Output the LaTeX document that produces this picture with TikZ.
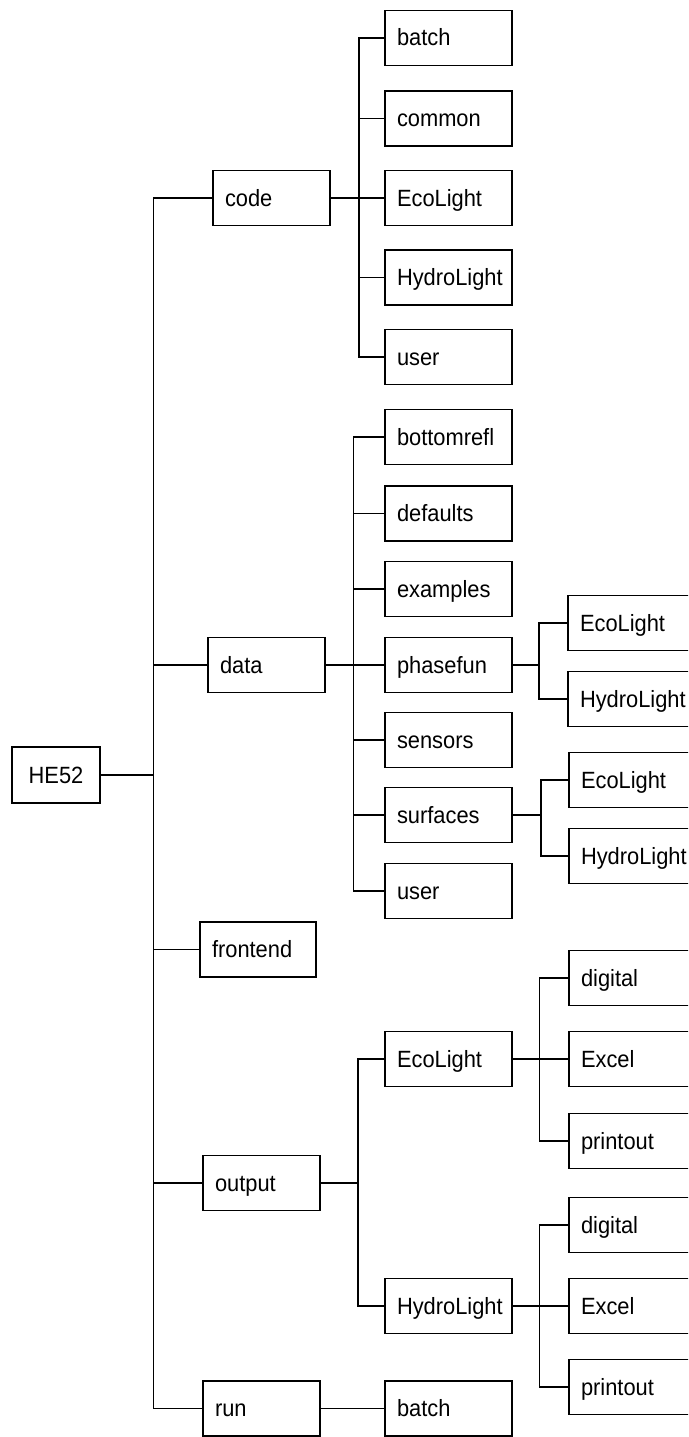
\documentclass[tikz,border=0pt]{standalone}
\usepackage{fontspec}
\newfontfamily\arialx[FakeStretch=0.93]{Liberation Sans}
\begin{document}
\begin{tikzpicture}[x=1pt,y=-1pt,
  bx/.style={draw, line width=1.1pt, inner xsep=12pt, inner ysep=0pt, minimum height=55pt,
    text height=16pt, text depth=0pt, align=left, font=\arialx\fontsize{23.5}{26}\selectfont},
  wa/.style={bx, text width=93pt},
  wb/.style={bx, text width=103pt},
  ln/.style={line width=1.1pt}]
\useasboundingbox (0,0) rectangle (688,1437);
\clip (0,0) rectangle (688,1437);
% root
\node[bx, text width=64pt, align=center, minimum height=56pt] (he) at (56,775) {HE52};
% level 1
\node[wa] (code) at (271.5,198) {code};
\node[wa] (data) at (266.5,665) {data};
\node[bx, text width=92pt] (fe) at (258,949.5) {frontend};
\node[wa] (out) at (261.5,1183) {output};
\node[wa] (run) at (261.5,1408.5) {run};
% level 2 (code)
\node[wb] (cbatch) at (448.5,38) {batch};
\node[wb] (ccommon) at (448.5,118.5) {common};
\node[wb] (ceco) at (448.5,198) {EcoLight};
\node[wb] (chydro) at (448.5,277.5) {HydroLight};
\node[wb] (cuser) at (448.5,357) {user};
% level 2 (data)
\node[wb] (dbottom) at (448.5,437) {bottomrefl};
\node[wb] (ddef) at (448.5,513.5) {defaults};
\node[wb] (dex) at (448.5,589) {examples};
\node[wb] (dphase) at (448.5,665) {phasefun};
\node[wb] (dsens) at (448.5,740) {sensors};
\node[wb] (dsurf) at (448.5,815) {surfaces};
\node[wb] (duser) at (448.5,891) {user};
% level 2 (output, run)
\node[wb] (oeco) at (448.5,1059) {EcoLight};
\node[wb] (ohydro) at (448.5,1306) {HydroLight};
\node[wb] (rbatch) at (448.5,1408.5) {batch};
% level 3
\node[wb] (peco) at (631.5,623) {EcoLight};
\node[wb] (phydro) at (631.5,699) {HydroLight};
\node[wb] (seco) at (632.5,780) {EcoLight};
\node[wb] (shydro) at (632.5,856) {HydroLight};
\node[wb] (edig) at (632.5,978) {digital};
\node[wb] (eexc) at (632.5,1059) {Excel};
\node[wb] (eprint) at (632.5,1141) {printout};
\node[wb] (hdig) at (632.5,1225) {digital};
\node[wb] (hexc) at (632.5,1306) {Excel};
\node[wb] (hprint) at (632.5,1387) {printout};
% trunk coordinates
\coordinate (t0) at (153.5,0);
\coordinate (tc) at (359,0);
\coordinate (td) at (353.5,0);
\coordinate (to) at (358,0);
\coordinate (tp) at (539,0);
\coordinate (ts) at (541,0);
\coordinate (te) at (539.5,0);
\coordinate (th) at (539.5,0);
% connectors
\foreach \c in {code,data,fe,out,run}
  \draw[ln] (he.east) -- (he.east -| t0) |- (\c.west);
\foreach \c in {cbatch,ccommon,ceco,chydro,cuser}
  \draw[ln] (code.east) -- (code.east -| tc) |- (\c.west);
\foreach \c in {dbottom,ddef,dex,dphase,dsens,dsurf,duser}
  \draw[ln] (data.east) -- (data.east -| td) |- (\c.west);
\foreach \c in {oeco,ohydro}
  \draw[ln] (out.east) -- (out.east -| to) |- (\c.west);
\draw[ln] (run.east) -- (rbatch.west);
\foreach \c in {peco,phydro}
  \draw[ln] (dphase.east) -- (dphase.east -| tp) |- (\c.west);
\foreach \c in {seco,shydro}
  \draw[ln] (dsurf.east) -- (dsurf.east -| ts) |- (\c.west);
\foreach \c in {edig,eexc,eprint}
  \draw[ln] (oeco.east) -- (oeco.east -| te) |- (\c.west);
\foreach \c in {hdig,hexc,hprint}
  \draw[ln] (ohydro.east) -- (ohydro.east -| th) |- (\c.west);
\end{tikzpicture}
\end{document}
